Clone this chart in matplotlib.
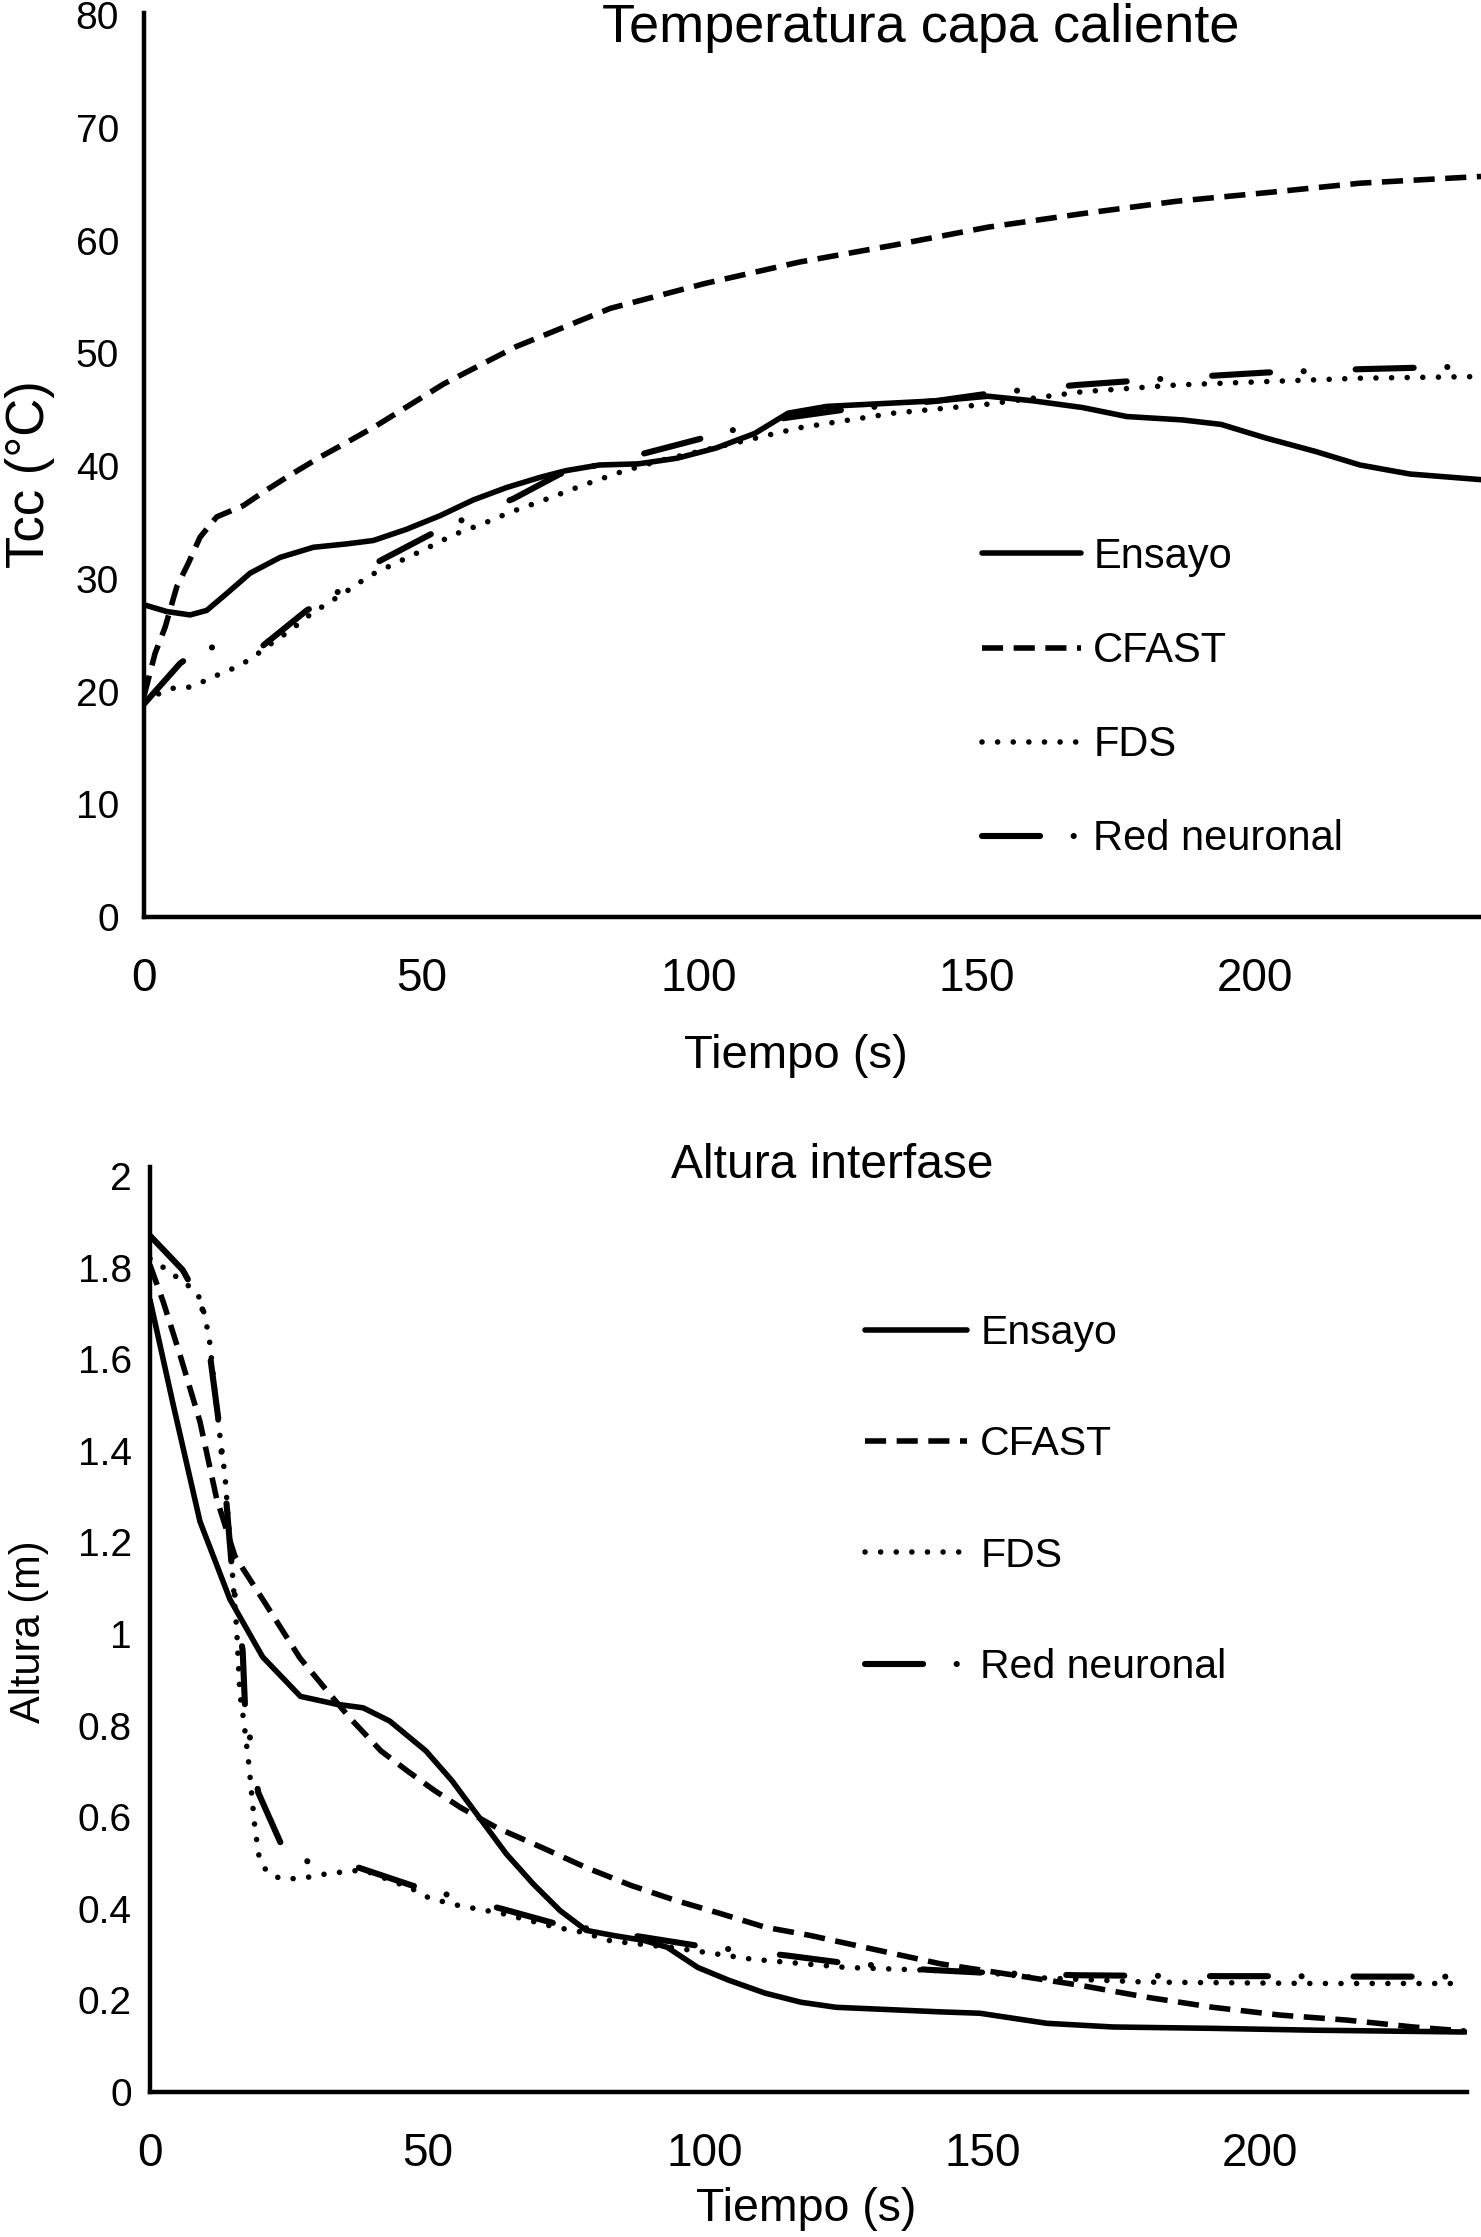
import numpy as np
import matplotlib
matplotlib.use("Agg")
import matplotlib.pyplot as plt

plt.rcParams['font.family'] = ['Liberation Sans', 'DejaVu Sans']

# --- Temperatura capa caliente ---
t_ens = [0, 4.1, 8.3, 11.3, 14.9, 19.1, 24.5, 30.5, 36.5, 41.3, 47.3, 53.3, 59.3, 65.3,
         71.3, 76, 82, 89, 96, 103, 110, 116, 123, 135, 143, 152, 160, 169, 177, 187,
         194, 202, 211, 219, 228, 240.8]
tcc_ens = [27.7, 27.1, 26.8, 27.2, 28.7, 30.5, 31.9, 32.8, 33.1, 33.4, 34.4, 35.6, 37.0,
           38.1, 39.0, 39.6, 40.1, 40.2, 40.7, 41.6, 42.9, 44.7, 45.3, 45.6, 45.8, 46.2,
           45.8, 45.2, 44.4, 44.1, 43.7, 42.5, 41.3, 40.1, 39.3, 38.8]

t_cf = [0, 2.0, 3.8, 5.9, 8.0, 10.1, 13.1, 17.9, 21.5, 26.3, 31.7, 36.5, 41.9, 54, 67,
        84, 101, 118, 135, 152, 169, 186, 203, 219, 240.8]
tcc_cf = [19.6, 23.4, 25.7, 29.3, 31.4, 33.7, 35.5, 36.5, 37.7, 39.2, 40.8, 42.1, 43.6,
          47.3, 50.6, 54.0, 56.2, 58.1, 59.6, 61.2, 62.4, 63.5, 64.3, 65.1, 65.7]

t_fds = [0, 5.3, 8.3, 10.7, 13.4, 15.8, 18.2, 20.6, 23.3, 26.3, 29.3, 31.7, 36.2, 40.7,
         45.8, 50.9, 55.7, 61.1, 65.9, 71, 73.7, 79, 86, 93, 106, 118, 135, 152, 169,
         186, 202, 219, 240.8]
tcc_fds = [19.3, 20.3, 20.4, 20.9, 21.5, 22.0, 22.6, 23.4, 24.4, 25.4, 26.6, 27.4, 28.8,
           30.3, 31.5, 32.7, 33.9, 34.9, 35.9, 36.8, 37.3, 38.3, 39.5, 40.5, 42.0, 43.4,
           44.7, 45.5, 46.6, 47.2, 47.5, 47.8, 47.95]

t_rn = [0, 6.5, 10.7, 16.1, 21.5, 29.3, 33.8, 38.3, 42.5, 51.8, 56.3, 61.4, 66.5, 74.9,
        86, 100, 113, 126, 143, 153, 168, 185, 202, 219, 235]
tcc_rn = [18.9, 22.5, 24.0, 23.7, 24.1, 27.2, 28.4, 30.2, 31.6, 34.0, 35.0, 36.1, 37.1,
          39.3, 40.6, 42.4, 44.1, 45.0, 45.8, 46.5, 47.2, 47.8, 48.3, 48.6, 48.8]

# --- Altura interfase ---
t_ens_b = [0, 4.2, 9, 14.4, 20.3, 27.1, 33.5, 38.4, 43.2, 49.7, 54.4, 59.3, 64.2, 69,
           73.9, 78.6, 83.4, 89, 93.2, 98.7, 104.3, 110.8, 117.3, 123.6, 142.4, 149.5,
           161.6, 173.5, 191.5, 209.5, 237]
h_ens_b = [1.73, 1.50, 1.246, 1.076, 0.95, 0.864, 0.847, 0.839, 0.81, 0.745, 0.68, 0.60,
           0.52, 0.455, 0.396, 0.353, 0.342, 0.331, 0.316, 0.272, 0.244, 0.216, 0.196,
           0.185, 0.175, 0.172, 0.15, 0.142, 0.139, 0.135, 0.131]

t_cf_b = [0, 2.4, 5.4, 9, 12, 15.3, 20.3, 27, 31.9, 36, 41.6, 46.5, 51.3, 56, 62.5,
          70.6, 78.6, 86.7, 94.8, 102.7, 110.8, 118.9, 142.4, 167.6, 179.6, 191.5, 203.6,
          215.7, 227.6, 237]
h_cf_b = [1.806, 1.725, 1.61, 1.464, 1.296, 1.17, 1.076, 0.948, 0.876, 0.817, 0.745,
          0.70, 0.658, 0.621, 0.577, 0.534, 0.49, 0.451, 0.418, 0.39, 0.36, 0.342, 0.28,
          0.233, 0.207, 0.185, 0.168, 0.157, 0.142, 0.133]

t_fds_b = [0, 2.5, 6.8, 8.7, 9.6, 10.2, 10.7, 12.5, 13.5, 15.6, 16.2, 16.9, 17.8, 18.9,
           19.7, 21.1, 23.5, 26.3, 29.1, 32, 38.4, 47.2, 50.4, 55.7, 63.4, 73, 77.9, 83,
           95, 108.5, 125.4, 142.4, 149.5, 159.3, 179.6, 209.5, 237]
h_fds_b = [1.82, 1.80, 1.762, 1.74, 1.708, 1.675, 1.643, 1.442, 1.348, 1.013, 0.869,
           0.81, 0.717, 0.577, 0.51, 0.48, 0.466, 0.466, 0.47, 0.477, 0.485, 0.444, 0.423,
           0.407, 0.39, 0.36, 0.349, 0.33, 0.314, 0.29, 0.272, 0.265, 0.262, 0.25, 0.24,
           0.237, 0.237]

t_rn_b = [0, 5.9, 9.3, 10.8, 12.3, 13.8, 15, 16.7, 17.1, 19.5, 23.5, 27.6, 37.6, 47.2,
          63.4, 73, 89, 98.4, 114.8, 124.3, 140, 151, 167, 177, 193, 204, 219, 230, 237]
h_rn_b = [1.87, 1.795, 1.72, 1.61, 1.471, 1.283, 1.109, 0.963, 0.847, 0.654, 0.545,
          0.505, 0.49, 0.451, 0.40, 0.368, 0.338, 0.32, 0.298, 0.283, 0.267, 0.26, 0.255,
          0.254, 0.253, 0.253, 0.252, 0.252, 0.252]

labels = ['Ensayo', 'CFAST', 'FDS', 'Red neuronal']
yt_top = np.arange(0, 81, 10)
xt = [0, 50, 100, 150, 200]
yt_bot = [0, 0.2, 0.4, 0.6, 0.8, 1.0, 1.2, 1.4, 1.6, 1.8, 2.0]
yt_bot_lab = ['0', '0.2', '0.4', '0.6', '0.8', '1', '1.2', '1.4', '1.6', '1.8', '2']

W, H = 1481, 2237
fig = plt.figure(figsize=(W / 100, H / 100), dpi=100)


def px(x, y):
    return x / W, 1 - y / H


def style_axes(ax):
    for s in ['top', 'right']:
        ax.spines[s].set_visible(False)
    for s in ['left', 'bottom']:
        ax.spines[s].set_linewidth(3.2)
        ax.spines[s].set_color('black')
    ax.tick_params(length=0)


def draw_series(ax, data):
    (x1, y1), (x2, y2), (x3, y3), (x4, y4) = data
    ax.plot(x1, y1, color='black', lw=4.0, solid_capstyle='round',
            solid_joinstyle='round', label=labels[0])
    ax.plot(x2, y2, color='black', lw=4.0, linestyle=(0, (3.8, 1.9)), label=labels[1])
    ax.plot(x3, y3, color='black', lw=4.0, linestyle=(0, (0.01, 2.8)),
            dash_capstyle='round', label=labels[2])
    ax.plot(x4, y4, color='black', lw=4.4, linestyle=(0, (9.5, 5.5, 0.01, 8.5)),
            dash_capstyle='round', label=labels[3])


# arriba: temperatura
ax1 = fig.add_axes([144 / W, 1 - 917 / H, (W - 144) / W, (917 - 13) / H])
style_axes(ax1)
draw_series(ax1, [(t_ens, tcc_ens), (t_cf, tcc_cf), (t_fds, tcc_fds), (t_rn, tcc_rn)])
ax1.set_xlim(0, 240.8)
ax1.set_ylim(0, 80.2)
ax1.set_yticks(yt_top)
ax1.set_xticks(xt)
ax1.tick_params(axis='y', labelsize=28, pad=18)
ax1.tick_params(axis='x', labelsize=33, pad=29)
ax1.legend(loc='upper left', bbox_to_anchor=px(982, 537), bbox_transform=fig.transFigure,
           frameon=False, fontsize=30, handlelength=2.38, handletextpad=0.29,
           labelspacing=1.30, borderpad=0, borderaxespad=0)

fig.text(*px(921, 42), 'Temperatura capa caliente', fontsize=39, ha='center', va='baseline')
fig.text(*px(796, 1056), 'Tiempo (s)', fontsize=34, ha='center', va='center')
fig.text(*px(30, 474), 'Tcc (°C)', fontsize=38, ha='center', va='center', rotation=90)

# abajo: altura de la interfase
ax2 = fig.add_axes([150 / W, 1 - 2092 / H, (1467 - 150) / W, (2092 - 1167) / H])
style_axes(ax2)
draw_series(ax2, [(t_ens_b, h_ens_b), (t_cf_b, h_cf_b), (t_fds_b, h_fds_b), (t_rn_b, h_rn_b)])
ax2.set_xlim(0, 237.3)
ax2.set_ylim(0, 2.02)
ax2.set_yticks(yt_bot)
ax2.set_yticklabels(yt_bot_lab)
ax2.set_xticks(xt)
ax2.tick_params(axis='y', labelsize=28, pad=13)
ax2.tick_params(axis='x', labelsize=33, pad=29)
ax2.legend(loc='upper left', bbox_to_anchor=px(865, 1314), bbox_transform=fig.transFigure,
           frameon=False, fontsize=29.5, handlelength=2.49, handletextpad=0.32,
           labelspacing=1.79, borderpad=0, borderaxespad=0)

fig.text(*px(832, 1178), 'Altura interfase', fontsize=34.5, ha='center', va='baseline')
fig.text(*px(806, 2209), 'Tiempo (s)', fontsize=33.5, ha='center', va='center')
fig.text(*px(29, 1632), 'Altura (m)', fontsize=30, ha='center', va='center', rotation=90)

fig.savefig('out.png', dpi=100)
